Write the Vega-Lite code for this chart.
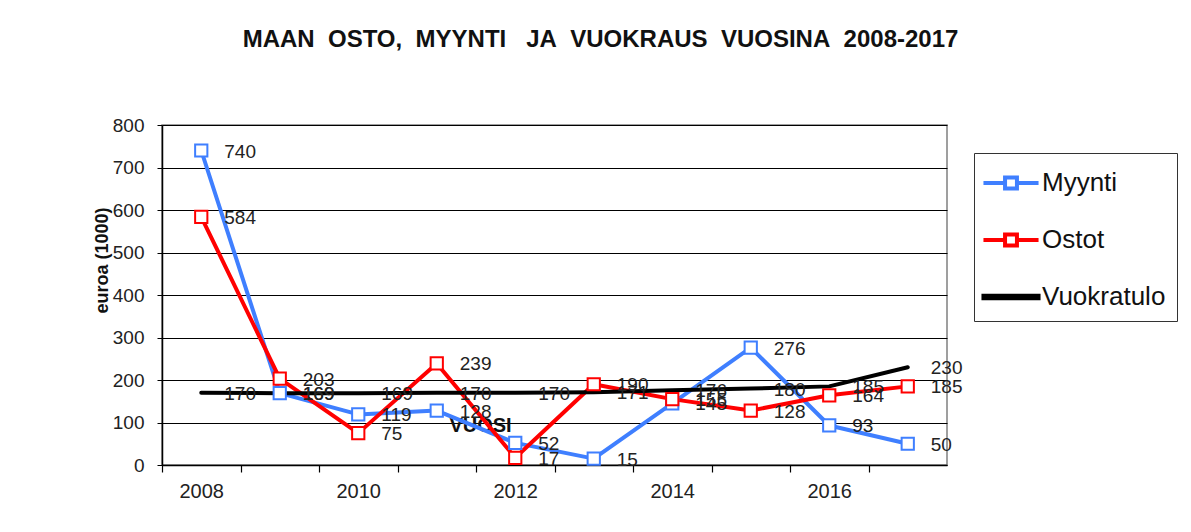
{
  "$schema": "https://vega.github.io/schema/vega-lite/v6.json",
  "autosize": {"type": "none"},
  "padding": {"left": 162, "top": 125, "right": 244, "bottom": 67},
  "width": 785,
  "height": 340,
  "background": "white",
  "config": {
    "font": "Liberation Sans",
    "view": {"stroke": "#808080", "strokeWidth": 1.5},
    "axis": {"labelFont": "Liberation Sans", "titleFont": "Liberation Sans", "labelColor": "#222", "titleColor": "#111", "domainColor": "#000", "tickColor": "#000", "gridColor": "#000", "gridOpacity": 1}
  },
  "title": {
    "text": "MAAN\u00a0 OSTO,\u00a0 MYYNTI\u00a0\u00a0 JA\u00a0 VUOKRAUS\u00a0 VUOSINA\u00a0 2008-2017",
    "font": "Liberation Sans",
    "fontSize": 24,
    "fontWeight": "bold",
    "color": "#111",
    "anchor": "middle",
    "frame": "group",
    "dx": 46,
    "offset": 45,
    "baseline": "alphabetic"
  },
  "data": {
    "values": [
      {"year": 2008, "series": "Myynti", "v": 740},
      {"year": 2009, "series": "Myynti", "v": 169},
      {"year": 2010, "series": "Myynti", "v": 119},
      {"year": 2011, "series": "Myynti", "v": 128},
      {"year": 2012, "series": "Myynti", "v": 52},
      {"year": 2013, "series": "Myynti", "v": 15},
      {"year": 2014, "series": "Myynti", "v": 145},
      {"year": 2015, "series": "Myynti", "v": 276},
      {"year": 2016, "series": "Myynti", "v": 93},
      {"year": 2017, "series": "Myynti", "v": 50},
      {"year": 2008, "series": "Ostot", "v": 584},
      {"year": 2009, "series": "Ostot", "v": 203},
      {"year": 2010, "series": "Ostot", "v": 75},
      {"year": 2011, "series": "Ostot", "v": 239},
      {"year": 2012, "series": "Ostot", "v": 17},
      {"year": 2013, "series": "Ostot", "v": 190},
      {"year": 2014, "series": "Ostot", "v": 155},
      {"year": 2015, "series": "Ostot", "v": 128},
      {"year": 2016, "series": "Ostot", "v": 164},
      {"year": 2017, "series": "Ostot", "v": 185},
      {"year": 2008, "series": "Vuokratulo", "v": 170},
      {"year": 2009, "series": "Vuokratulo", "v": 169},
      {"year": 2010, "series": "Vuokratulo", "v": 169},
      {"year": 2011, "series": "Vuokratulo", "v": 170},
      {"year": 2012, "series": "Vuokratulo", "v": 170},
      {"year": 2013, "series": "Vuokratulo", "v": 171},
      {"year": 2014, "series": "Vuokratulo", "v": 176},
      {"year": 2015, "series": "Vuokratulo", "v": 180},
      {"year": 2016, "series": "Vuokratulo", "v": 185},
      {"year": 2017, "series": "Vuokratulo", "v": 230}
    ]
  },
  "encoding": {
    "x": {
      "field": "year",
      "type": "quantitative",
      "scale": {"domain": [2007.5, 2017.5], "nice": false, "zero": false},
      "axis": {
        "values": [2008, 2009, 2010, 2011, 2012, 2013, 2014, 2015, 2016, 2017, 2018],
        "format": "d",
        "labelExpr": "datum.value % 2 == 0 && datum.value < 2018 ? datum.label : ''",
        "tickOffset": -39.25,
        "labelOffset": 39.25,
        "tickSize": 7,
        "tickWidth": 1.2,
        "labelPadding": 9,
        "labelFontSize": 20,
        "grid": false,
        "domainWidth": 1.5,
        "title": "VUOSI",
        "titleFontSize": 20,
        "titleFontWeight": "bold",
        "titleX": 318,
        "titleY": -40,
        "titleAlign": "center",
        "titleBaseline": "middle"
      }
    },
    "y": {
      "field": "v",
      "type": "quantitative",
      "scale": {"domain": [0, 800], "nice": false},
      "axis": {
        "values": [0, 100, 200, 300, 400, 500, 600, 700, 800],
        "tickSize": 5,
        "labelPadding": 13,
        "labelFontSize": 19,
        "grid": true,
        "gridWidth": 1,
        "domainWidth": 1.5,
        "title": "euroa (1000)",
        "titleFontSize": 18,
        "titleFontWeight": "bold",
        "titleX": -60,
        "titleY": 135,
        "titleAngle": -90,
        "titleAlign": "center",
        "titleBaseline": "middle"
      }
    }
  },
  "layer": [
    {
      "mark": {"type": "point", "filled": false, "strokeWidth": 3, "opacity": 0},
      "encoding": {
        "color": {
          "field": "series",
          "type": "nominal",
          "scale": {"domain": ["Myynti", "Ostot", "Vuokratulo"], "range": ["#3F7FFF", "#FF0000", "#000000"]},
          "legend": {
            "title": null,
            "orient": "none",
            "legendX": 812,
            "legendY": 28,
            "strokeColor": "#333",
            "fillColor": "white",
            "padding": 11,
            "symbolSize": 1156,
            "symbolOffset": 7,
            "symbolStrokeWidth": 3.5,
            "symbolOpacity": 1,
            "labelFontSize": 26,
            "labelFont": "Liberation Sans",
            "labelColor": "#111",
            "labelOffset": 12,
            "rowPadding": 24
          }
        },
        "shape": {
          "field": "series",
          "type": "nominal",
          "scale": {"domain": ["Myynti", "Ostot", "Vuokratulo"], "range": ["M-1.62,0H-0.35M0.35,0H1.62M-0.35,-0.33H0.35V0.33H-0.35Z", "M-1.62,0H-0.35M0.35,0H1.62M-0.35,-0.33H0.35V0.33H-0.35Z", "M-1.62,-0.07H1.62V0.07H-1.62Z"]},
          "legend": {
            "title": null,
            "orient": "none",
            "legendX": 812,
            "legendY": 28,
            "strokeColor": "#333",
            "fillColor": "white",
            "padding": 11,
            "symbolSize": 1156,
            "symbolOffset": 7,
            "symbolStrokeWidth": 3.5,
            "symbolOpacity": 1,
            "labelFontSize": 26,
            "labelFont": "Liberation Sans",
            "labelColor": "#111",
            "labelOffset": 12,
            "rowPadding": 24
          }
        }
      }
    },
    {
      "mark": {"type": "line", "strokeCap": "round", "strokeJoin": "round"},
      "encoding": {
        "detail": {"field": "series"},
        "stroke": {
          "field": "series",
          "type": "nominal",
          "scale": {"domain": ["Myynti", "Ostot", "Vuokratulo"], "range": ["#3F7FFF", "#FF0000", "#000000"]},
          "legend": null
        },
        "strokeWidth": {
          "field": "series",
          "type": "nominal",
          "scale": {"domain": ["Myynti", "Ostot", "Vuokratulo"], "range": [4, 4, 7]},
          "legend": null
        }
      }
    },
    {
      "transform": [{"filter": "datum.series != 'Vuokratulo'"}],
      "mark": {"type": "point", "shape": "square", "size": 150, "filled": false, "fill": "white", "fillOpacity": 1, "strokeWidth": 2, "opacity": 1},
      "encoding": {
        "stroke": {
          "field": "series",
          "type": "nominal",
          "scale": {"domain": ["Myynti", "Ostot", "Vuokratulo"], "range": ["#3F7FFF", "#FF0000", "#000000"]},
          "legend": null
        }
      }
    },
    {
      "mark": {"type": "text", "align": "left", "baseline": "middle", "dx": 23, "dy": 1, "fontSize": 19, "color": "#222", "font": "Liberation Sans"},
      "encoding": {"text": {"field": "v", "type": "quantitative"}}
    }
  ]
}
